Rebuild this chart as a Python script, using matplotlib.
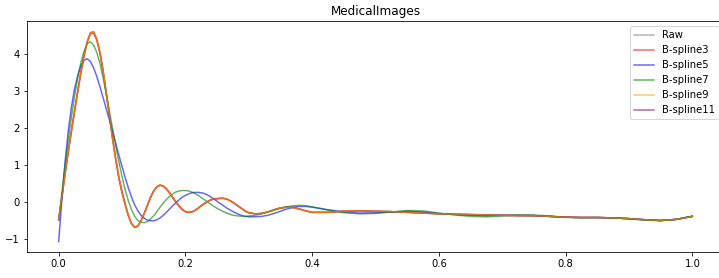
import matplotlib
matplotlib.use("Agg")
import matplotlib.pyplot as plt
import numpy as np

# x positions (normalised time), dense where the curves oscillate
x_dense = [round(0.005 * i, 3) for i in range(61)]            # 0.000 .. 0.300
x_mid = [round(0.31 + 0.01 * i, 2) for i in range(10)]         # 0.31 .. 0.40
x_tail = [round(0.425 + 0.025 * i, 3) for i in range(24)]      # 0.425 .. 1.000
x = x_dense + x_mid + x_tail

raw = [
    -0.50, 0.12, 0.75, 1.35, 1.90, 2.45, 2.98, 3.50, 3.95, 4.31,
    4.54, 4.56, 4.38, 4.04, 3.55, 2.95, 2.35, 1.72, 1.15, 0.65,
    0.25, -0.08, -0.38, -0.60, -0.69, -0.66, -0.52, -0.32, -0.10, 0.12,
    0.29, 0.40, 0.44, 0.42, 0.35, 0.24, 0.11, -0.01, -0.12, -0.21,
    -0.27, -0.29, -0.28, -0.24, -0.18, -0.11, -0.05, 0.00, 0.05, 0.07,
    0.08, 0.09, 0.09, 0.07, 0.03, -0.02, -0.08, -0.14, -0.20, -0.26,
    -0.30,
    -0.33, -0.32, -0.28, -0.22, -0.17, -0.15, -0.16, -0.20, -0.25, -0.29,
    -0.29, -0.26, -0.25, -0.26, -0.27, -0.29, -0.31, -0.33, -0.34, -0.35,
    -0.36, -0.37, -0.38, -0.38, -0.40, -0.42, -0.43, -0.43, -0.44, -0.46,
    -0.49, -0.51, -0.48, -0.40,
]

bspline3 = [
    -0.50, 0.12, 0.75, 1.35, 1.90, 2.45, 2.98, 3.50, 3.95, 4.33,
    4.58, 4.61, 4.41, 4.05, 3.55, 2.95, 2.35, 1.72, 1.15, 0.65,
    0.25, -0.08, -0.38, -0.60, -0.70, -0.66, -0.52, -0.32, -0.10, 0.12,
    0.29, 0.40, 0.45, 0.42, 0.35, 0.24, 0.11, -0.01, -0.12, -0.21,
    -0.27, -0.29, -0.28, -0.24, -0.18, -0.11, -0.05, 0.00, 0.05, 0.07,
    0.08, 0.09, 0.09, 0.07, 0.03, -0.02, -0.08, -0.14, -0.20, -0.26,
    -0.30,
    -0.33, -0.32, -0.28, -0.22, -0.17, -0.15, -0.16, -0.20, -0.25, -0.29,
    -0.29, -0.26, -0.25, -0.26, -0.27, -0.29, -0.31, -0.33, -0.34, -0.35,
    -0.36, -0.37, -0.38, -0.38, -0.40, -0.42, -0.43, -0.43, -0.44, -0.46,
    -0.49, -0.51, -0.48, -0.40,
]

bspline5 = [
    -1.08, 0.05, 1.05, 1.90, 2.55, 3.05, 3.42, 3.68, 3.83, 3.87,
    3.80, 3.63, 3.40, 3.12, 2.82, 2.52, 2.22, 1.90, 1.58, 1.26,
    0.95, 0.65, 0.37, 0.12, -0.09, -0.25, -0.37, -0.45, -0.50, -0.52,
    -0.52, -0.49, -0.44, -0.37, -0.29, -0.20, -0.11, -0.03, 0.05, 0.12,
    0.17, 0.21, 0.24, 0.25, 0.25, 0.24, 0.22, 0.18, 0.13, 0.07,
    0.01, -0.05, -0.11, -0.17, -0.22, -0.27, -0.31, -0.35, -0.38, -0.40,
    -0.41,
    -0.41, -0.40, -0.37, -0.32, -0.26, -0.20, -0.15, -0.13, -0.13, -0.15,
    -0.22, -0.28, -0.31, -0.30, -0.28, -0.26, -0.28, -0.32, -0.35, -0.37,
    -0.38, -0.37, -0.37, -0.38, -0.40, -0.42, -0.43, -0.43, -0.44, -0.46,
    -0.49, -0.51, -0.48, -0.40,
]

bspline7 = [
    -0.50, 0.25, 0.98, 1.65, 2.28, 2.85, 3.35, 3.77, 4.08, 4.28,
    4.33, 4.25, 4.05, 3.75, 3.36, 2.92, 2.45, 1.98, 1.52, 1.08,
    0.68, 0.32, 0.02, -0.22, -0.40, -0.51, -0.56, -0.57, -0.54, -0.47,
    -0.38, -0.27, -0.15, -0.04, 0.06, 0.14, 0.21, 0.26, 0.29, 0.30,
    0.30, 0.29, 0.26, 0.22, 0.17, 0.11, 0.05, -0.01, -0.07, -0.13,
    -0.18, -0.23, -0.27, -0.31, -0.34, -0.37, -0.38, -0.39, -0.40, -0.40,
    -0.39,
    -0.37, -0.33, -0.28, -0.23, -0.18, -0.14, -0.11, -0.10, -0.11, -0.14,
    -0.23, -0.30, -0.33, -0.32, -0.28, -0.24, -0.25, -0.31, -0.36, -0.40,
    -0.41, -0.39, -0.36, -0.36, -0.39, -0.43, -0.44, -0.43, -0.44, -0.47,
    -0.50, -0.52, -0.48, -0.39,
]

bspline9 = list(bspline3)
bspline9[10:12] = [4.56, 4.59]

bspline11 = list(bspline3)
bspline11[10:12] = [4.55, 4.58]

# label, values, colour, stacking order
series = [
    ("Raw", raw, "gray", 1),
    ("B-spline3", bspline3, "red", 3),
    ("B-spline5", bspline5, "blue", 4),
    ("B-spline7", bspline7, "green", 4),
    ("B-spline9", bspline9, "orange", 5),
    ("B-spline11", bspline11, "purple", 2),
]

fig = plt.figure(figsize=(719 / 72, 278 / 72), dpi=72)
ax = fig.add_axes([27 / 719, 26 / 278, 697 / 719, 231 / 278])

for label, vals, color, z in series:
    ax.plot(x, vals, color=color, alpha=0.6, linewidth=1.5, label=label, zorder=z)

ax.set_title("MedicalImages")
ax.legend(loc="upper right")

fig.savefig("out.png", dpi=72)
